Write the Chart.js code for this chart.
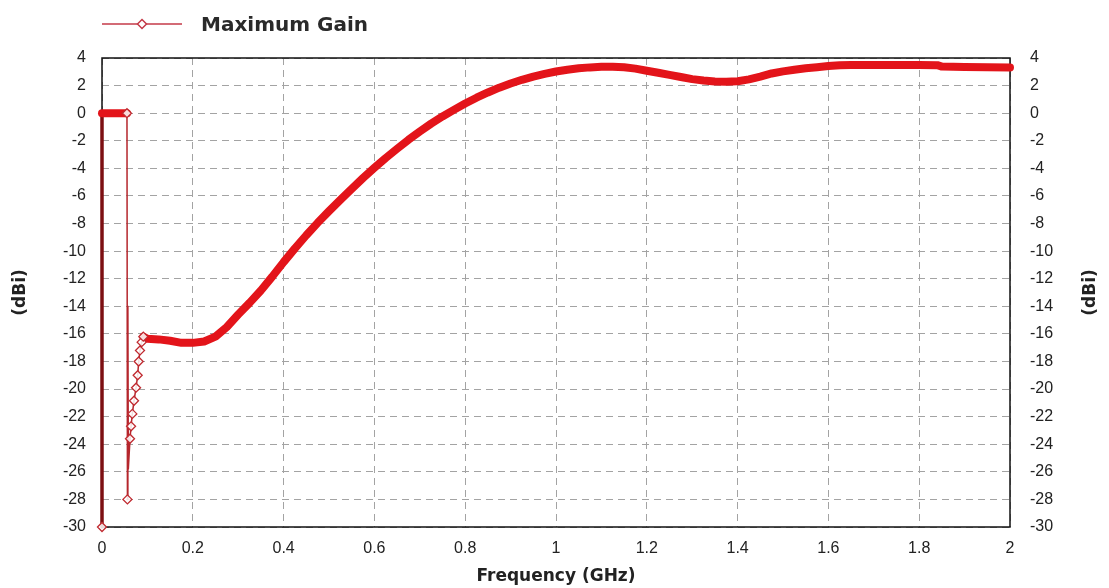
<!DOCTYPE html>
<html>
<head>
<meta charset="utf-8">
<script src="https://cdn.jsdelivr.net/npm/chart.js@4"></script>
<style>
  html, body { margin: 0; padding: 0; background: #ffffff; }
  #wrap { position: relative; width: 1109px; height: 588px; }
  #legend { position: absolute; left: 100px; top: 12px; height: 24px; width: 400px; }
  #legend svg { position: absolute; left: 0; top: 2px; }
  #legend span { position: absolute; left: 101px; top: 0px; font: bold 20px "DejaVu Sans", sans-serif; color: #2a2a2a; white-space: nowrap; }
</style>
</head>
<body>
<div id="wrap">
  <canvas id="c" width="1109" height="588"></canvas>
  <div id="legend">
    <svg width="86" height="20"><line x1="2" y1="10" x2="82" y2="10" stroke="#c43a48" stroke-width="1.5"/><polygon points="42,5.5 46.5,10 42,14.5 37.5,10" fill="#fff" stroke="#c43a48" stroke-width="1.5"/></svg>
    <span>Maximum Gain</span>
  </div>
</div>
<script>
// ---- data ----
const seriesName = 'Maximum Gain';
const freqGHz = [
  0, 0, 0.01, 0.02, 0.03, 0.04, 0.05, 0.055,
  0.056, 0.057, 0.058, 0.0617, 0.064, 0.0668, 0.0705, 0.075, 0.0786, 0.0808, 0.0837, 0.0874, 0.091,
  0.10, 0.125, 0.15, 0.175, 0.20, 0.225, 0.25, 0.275, 0.30, 0.325, 0.35, 0.375, 0.40, 0.425, 0.45, 0.475, 0.50,
  0.525, 0.55, 0.575, 0.60, 0.625, 0.65, 0.675, 0.70, 0.725, 0.75, 0.775, 0.80, 0.825, 0.85, 0.875, 0.90,
  0.925, 0.95, 0.975, 1.00, 1.025, 1.05, 1.075, 1.10, 1.125, 1.15, 1.175, 1.20, 1.225, 1.25, 1.275, 1.30,
  1.325, 1.35, 1.375, 1.40, 1.425, 1.45, 1.475, 1.50, 1.525, 1.55, 1.575, 1.60, 1.625, 1.65, 1.70, 1.75,
  1.80, 1.84, 1.85, 1.90, 1.95, 2.00
];
const gainDBi = [
  -30, 0, 0, 0, 0, 0, 0, 0,
  -28, -14, -25.8, -23.6, -22.7, -21.8, -20.85, -19.9, -19.0, -18.0, -17.2, -16.6, -16.2,
  -16.35, -16.4, -16.5, -16.65, -16.65, -16.55, -16.2, -15.5, -14.6, -13.75, -12.85, -11.85, -10.8, -9.8, -8.85, -7.95, -7.1,
  -6.28, -5.48, -4.7, -3.96, -3.25, -2.58, -1.93, -1.33, -0.76, -0.24, 0.24, 0.7, 1.12, 1.5, 1.85, 2.15,
  2.42, 2.65, 2.85, 3.02, 3.15, 3.25, 3.32, 3.36, 3.37, 3.33, 3.23, 3.08, 2.93, 2.78, 2.62, 2.47,
  2.37, 2.3, 2.28, 2.32, 2.45, 2.65, 2.88, 3.03, 3.15, 3.25, 3.33, 3.42, 3.48, 3.5, 3.5, 3.5,
  3.5, 3.48, 3.38, 3.35, 3.33, 3.32
];
const xTickLabels = ['0', '0.2', '0.4', '0.6', '0.8', '1', '1.2', '1.4', '1.6', '1.8', '2'];
const xTitle = 'Frequency (GHz)';
const yTitle = '(dBi)';
const yMin = -30, yMax = 4, yStep = 2;
const xMin = 0, xMax = 2, xStep = 0.2;

// ---- chart ----
const points = freqGHz.map((f, i) => ({ x: f, y: gainDBi[i] }));
const BRIGHT = '#e3141a';
const DARK = '#7c0f12';
const THIN = '#b5262c';

function isBand(p0, p1) {
  return (p0.parsed.y === 0 && p1.parsed.y === 0) || p0.parsed.x >= 0.09;
}

const framePlugin = {
  id: 'frame',
  beforeDatasetsDraw(chart) {
    const { ctx, chartArea: a } = chart;
    ctx.save();
    ctx.strokeStyle = '#111';
    ctx.lineWidth = 1.5;
    ctx.strokeRect(a.left, a.top, a.right - a.left, a.bottom - a.top);
    ctx.restore();
  },
  afterDraw(chart) {
    const { ctx, chartArea: a } = chart;
    ctx.save();
    // right axis title, same orientation as the left one
    ctx.translate(1091, (a.top + a.bottom) / 2);
    ctx.rotate(-Math.PI / 2);
    ctx.fillStyle = '#222';
    ctx.font = 'bold 17px "DejaVu Sans", sans-serif';
    ctx.textAlign = 'center';
    ctx.textBaseline = 'middle';
    ctx.fillText(yTitle, 0, 0);
    ctx.restore();
  }
};

const tickFont = { family: '"Liberation Sans", Arial, sans-serif', size: 16 };
const titleFont = { family: '"DejaVu Sans", sans-serif', size: 17, weight: 'bold' };
const gridOpts = { color: '#a3a3a3', lineWidth: 1, drawTicks: false };

new Chart(document.getElementById('c'), {
  type: 'line',
  data: {
    datasets: [{
      label: seriesName,
      data: points,
      clip: false,
      borderColor: BRIGHT,
      borderWidth: 8,
      tension: 0,
      borderJoinStyle: 'round',
      borderCapStyle: 'round',
      segment: {
        borderWidth: ctx => {
          if (ctx.p0.parsed.x === 0 && ctx.p1.parsed.x === 0) return 3.5;
          return isBand(ctx.p0, ctx.p1) ? 8 : 1.5;
        },
        borderColor: ctx => {
          if (ctx.p0.parsed.x === 0 && ctx.p1.parsed.x === 0) return DARK;
          return isBand(ctx.p0, ctx.p1) ? BRIGHT : THIN;
        }
      },
      pointStyle: 'rectRot',
      pointRadius: ctx => {
        const p = ctx.raw;
        if (!p) return 0;
        if (p.y === -30) return 4.5;
        if (p.x > 0.05 && p.x < 0.095 && p.y !== -14 && p.y !== -25.8) return 4.5;
        return 0;
      },
      pointBorderColor: '#c02a30',
      pointBackgroundColor: 'rgba(255,255,255,0.85)',
      pointBorderWidth: 1.3
    }]
  },
  options: {
    responsive: false,
    animation: false,
    events: [],
    layout: { padding: { top: 58, left: 0, right: 0, bottom: 0 } },
    plugins: { legend: { display: false }, tooltip: { enabled: false } },
    scales: {
      x: {
        type: 'linear', min: xMin, max: xMax,
        ticks: { stepSize: xStep, autoSkip: false, maxRotation: 0, padding: 12, color: '#222', font: tickFont,
                 callback: (v, i) => xTickLabels[i] },
        grid: gridOpts,
        border: { display: false, dash: [7, 5] },
        title: { display: true, text: xTitle, color: '#222', font: titleFont, padding: { top: 0, bottom: 1 } },
        afterFit: s => { s.height = 61; }
      },
      y: {
        type: 'linear', position: 'left', min: yMin, max: yMax,
        ticks: { stepSize: yStep, padding: 16, color: '#222', font: tickFont },
        grid: gridOpts,
        border: { display: false, dash: [7, 5] },
        title: { display: true, text: yTitle, color: '#222', font: titleFont, padding: { top: 10, bottom: 0 } },
        afterFit: s => { s.width = 102; }
      },
      y2: {
        type: 'linear', position: 'right', min: yMin, max: yMax,
        ticks: { stepSize: yStep, padding: 12, color: '#222', font: tickFont },
        grid: { display: false },
        border: { display: false },
        afterFit: s => { s.width = 99; }
      }
    }
  },
  plugins: [framePlugin]
});
</script>
</body>
</html>
